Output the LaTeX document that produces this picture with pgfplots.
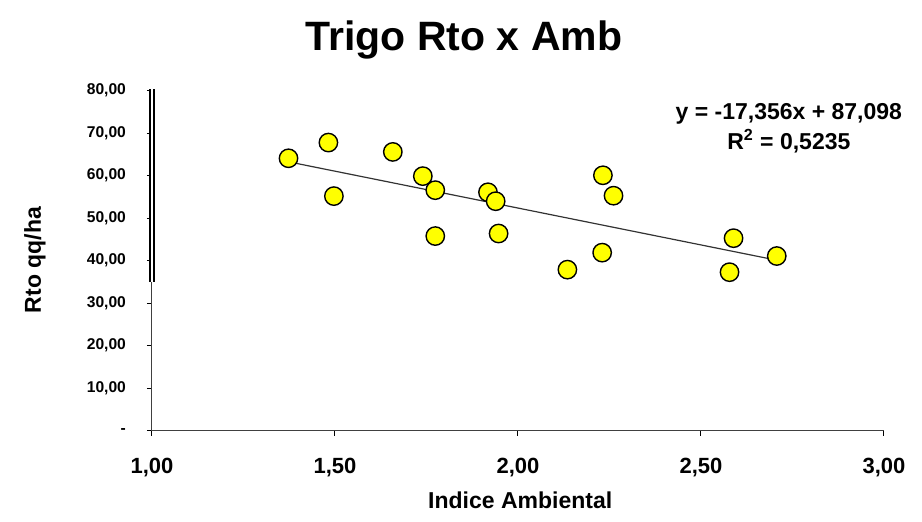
\documentclass[border=0pt]{standalone}
\usepackage{fontspec}
\setmainfont{Liberation Sans}
\usepackage{pgfplots}
\pgfplotsset{compat=1.18}

\definecolor{ptyellow}{RGB}{255,255,0}

\begin{document}
\begin{tikzpicture}
% page frame
\path[use as bounding box] (-76pt,-45.15pt) rectangle (385pt,215.35pt);
\begin{axis}[
  at={(0,0)}, anchor=south west,
  scale only axis, width=366pt, height=170pt,
  xmin=1, xmax=3, ymin=0, ymax=80,
  axis lines=left,
  axis line style={-, line width=0.5pt, black!75},
  xtick={1,1.5,2,2.5,3},
  xticklabels={1{,}00,1{,}50,2{,}00,2{,}50,3{,}00},
  ytick={0,10,20,30,40,50,60,70,80},
  yticklabels={-\hspace{6pt},10{,}00,20{,}00,30{,}00,40{,}00,50{,}00,60{,}00,70{,}00,80{,}00},
  tick align=outside, major tick length=2.5pt,
  tick style={black, line width=0.5pt},
  x tick label style={font=\fontsize{11}{13}\selectfont\bfseries, yshift=-7.5pt},
  y tick label style={font=\fontsize{7.8}{9}\selectfont\bfseries, xshift=-7pt},
  title={Trigo Rto x Amb},
  title style={font=\fontsize{20.5}{24}\selectfont\bfseries, at={(axis description cs:0.426,1)}, anchor=center, yshift=19.5pt},
  xlabel={Indice Ambiental},
  xlabel style={font=\fontsize{11.5}{13}\selectfont\bfseries, at={(axis description cs:0.503,0)}, anchor=center, yshift=-34.6pt},
  ylabel={Rto qq/ha},
  ylabel style={font=\fontsize{11.5}{13}\selectfont\bfseries, at={(axis description cs:0,0.502)}, anchor=center, yshift=58.5pt},
  clip=false,
]
% heavy segment of the vertical axis
\draw[black, line width=1pt, double=white, double distance=1pt] (axis cs:1,35) -- (axis cs:1,80.5);

% linear trend line
\addplot[black!80, line width=0.6pt] coordinates {(1.373,63.27) (2.707,40.12)};

% observations
\addplot[only marks, mark=*, mark size=4.6pt,
  mark options={fill=ptyellow, draw=black, line width=0.7pt}] table {
x y
1.373 64.1
1.482 67.8
1.497 55.2
1.658 65.6
1.740 59.9
1.774 56.6
1.774 45.8
1.918 56.1
1.939 54.0
1.947 46.4
2.135 37.9
2.232 60.1
2.261 55.3
2.230 41.9
2.589 45.3
2.578 37.3
2.707 41.1
};

\node[align=center, font=\fontsize{11.5}{15}\selectfont\bfseries] at (axis cs:2.74,71.2)
  {y = -17,356x + 87,098\\R\textsuperscript{2} = 0,5235};
\end{axis}
\end{tikzpicture}
\end{document}
